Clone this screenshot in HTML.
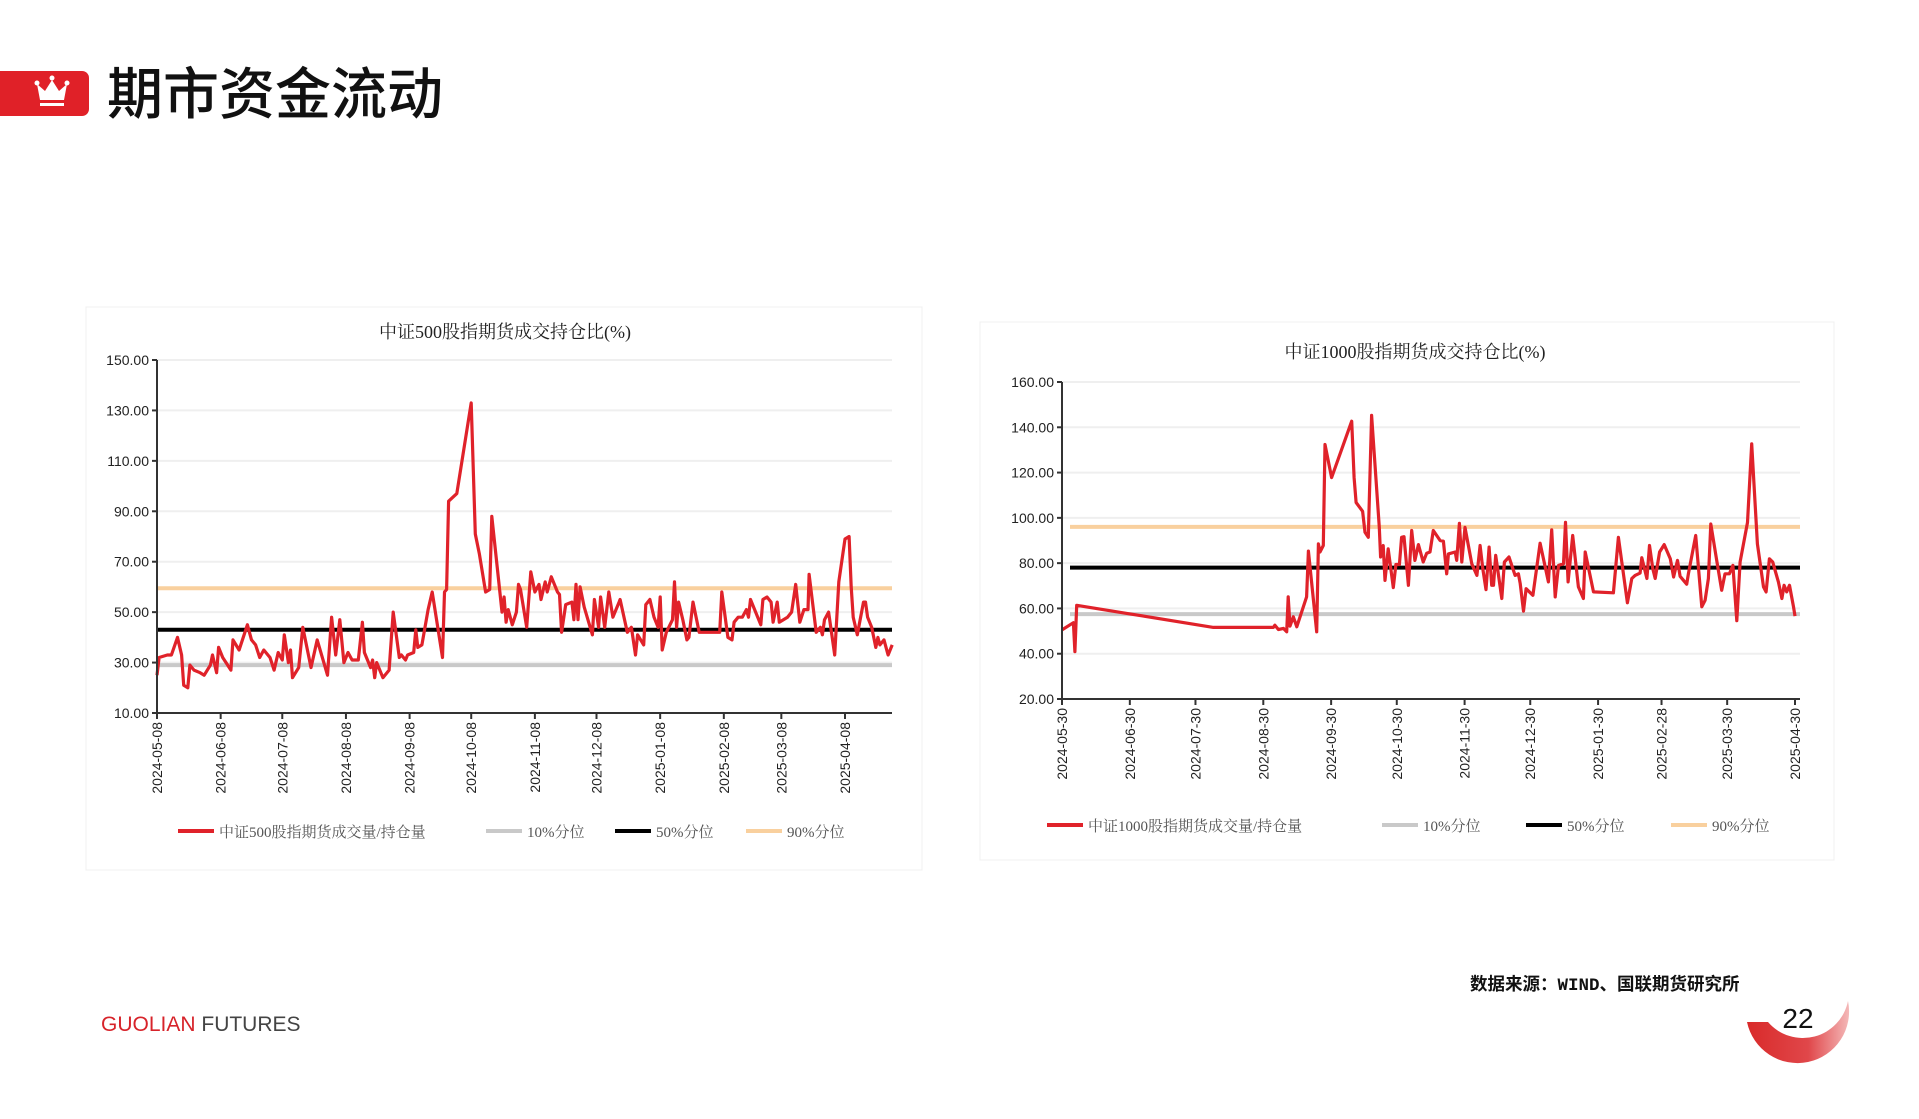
<!DOCTYPE html>
<html><head><meta charset="utf-8">
<style>
html,body{margin:0;padding:0;background:#fff;}
body{width:1919px;height:1114px;position:relative;overflow:hidden;font-family:"Liberation Sans","Noto Sans CJK SC",sans-serif;}
svg text{font-family:"Liberation Sans","Noto Sans CJK SC",sans-serif;}
.serif{font-family:"Liberation Serif","Noto Serif CJK SC",serif;}
</style></head>
<body>
<svg id="page" width="1919" height="1114" viewBox="0 0 1919 1114" xmlns="http://www.w3.org/2000/svg">
  <defs>
    <linearGradient id="arcGrad" x1="0" y1="0" x2="1" y2="0">
      <stop offset="0" stop-color="#d92a2a"/><stop offset="0.6" stop-color="#e0474a"/><stop offset="1" stop-color="#f4b8b8"/>
    </linearGradient>
  </defs>
  <g>
    <rect x="-10" y="71" width="99" height="45" rx="7" fill="#e02128"/>
    <g fill="#fff">
      <path d="M40 100 L37 84 L45 91 L52 80 L59 91 L67 84 L64 100 Z"/>
      <circle cx="37" cy="83" r="2.5"/><circle cx="52" cy="78" r="2.5"/><circle cx="67" cy="83" r="2.5"/>
      <rect x="40" y="103" width="24" height="3"/>
    </g>
    <text x="107" y="114" font-size="56" font-weight="500" fill="#111" style="font-family:'Noto Sans CJK SC',sans-serif">期市资金流动</text>
  </g>
  <rect x="86" y="307" width="836" height="563" fill="#fff" stroke="#f0f0f0"/>
  <rect x="980" y="322" width="854" height="538" fill="#fff" stroke="#f0f0f0"/>
  <g id="leftChart"></g>
  <g id="rightChart"></g>
  <text x="1470" y="990" font-size="17.5" font-weight="bold" fill="#111" style="font-family:'Liberation Mono','Noto Sans CJK SC',monospace">数据来源：WIND、国联期货研究所</text>
  <text x="101" y="1031" font-size="21"><tspan fill="#d7232a">GUOLIAN</tspan><tspan fill="#444"> FUTURES</tspan></text>
  <g>
    <path d="M1747 1022 A50 50 0 0 0 1848 1001 A46 46 0 0 1 1768 1022 Z" fill="url(#arcGrad)"/>
    <text x="1798" y="1028" font-size="28" text-anchor="middle" fill="#111">22</text>
  </g>
</svg>
<script>
// ---- CSI 500 chart data (days since 2024-05-08) ----
const leftDays = [0,1,5,7,10,12,13,15,16,18,21,23,26,27,29,30,32,36,37,40,44,46,48,50,52,55,57,59,61,62,64,65,66,69,71,75,78,83,85,87,89,91,93,95,98,100,101,104,105,106,107,110,113,115,118,119,121,122,125,126,127,129,132,134,139,140,141,142,146,153,155,157,160,162,163,168,169,170,171,173,175,176,177,180,182,184,186,187,189,190,192,195,196,197,199,202,203,204,205,206,208,212,213,215,216,218,220,222,225,225.5,229,231,233,234,237,238,240,242,244,245,246,248,251,252,253,254,256,258,259,261,264,274,275,278,280,281,283,285,287,288,289,294,295,297,299,300,302,303,307,309,311,313,315,317,317.5,321,323,324,325,327,330,332,335,337,338,339,341,344,345,346,348,350,351,352,354,356,358];
const leftVals = [25,32,33,33,40,33,21,20,29,27,26,25,29,33,26,36,32,27,39,35,45,39,37,32,35,32,27,34,31,41,30,35,24,28,44,28,39,25,48,33,47,30,34,31,31,46,34,28,31,24,30,24,27,50,32,33,31,33,34,43,36,37,51,58,32,58,59,94,97,133,81,73,58,59,88,50,56,46,51,45,50,61,59,44,66,58,61,55,62,58,64,58,57,42,53,54,47,61,47,60,52,41,55,44,56,44,58,48,54,55,42,44,33,41,37,53,55,48,44,56,35,42,47,62,44,54,47,39,40,54,42,42,58,40,39,46,48,48,51,48,55,45,55,56,54,46,54,46,48,50,61,46,51,51,65,42,44,41,47,50,33,62,79,80,60,48,41,54,54,48,44,36,40,37,39,33,37];
const leftTickLabels = ["2024-05-08","2024-06-08","2024-07-08","2024-08-08","2024-09-08","2024-10-08","2024-11-08","2024-12-08","2025-01-08","2025-02-08","2025-03-08","2025-04-08"];
const leftTickDays = [0,31,61,92,123,153,184,214,245,276,304,335];
const leftYTicks = [10,30,50,70,90,110,130,150];
const leftQuantiles = [29, 43, 59.5];

// ---- CSI 1000 chart data (days since 2024-05-30) ----
const rightDays = [0,5.2,5.9,6.7,29.6,69.2,96.6,97.3,98.9,101.2,102.7,103.4,104.2,105.7,107.3,111.8,112.6,116.4,117.2,117.9,119.4,120.2,123.2,132.4,133.5,134.4,137.4,138.5,140,141.5,145,145.6,146.8,147.6,149.1,151.4,152.6,154.2,155.2,156.3,158.3,159.8,161.3,162.9,165.1,166.7,168.2,169.7,172.8,174.3,175.8,176.6,179.7,180.4,181.6,182.7,184.2,187.3,189.6,191.1,192.3,193.8,195.2,196.4,197.2,198.2,201,202.2,204.3,207.1,208.6,209.4,210.9,212.1,215.2,218.5,222.3,223.8,225.4,226.9,229.2,230.1,231.3,233.4,236,238.3,239.1,242.9,252,254.3,258.4,260.4,261.9,264.2,265,267.3,268.5,270,271.1,273.1,275.2,278,279.5,281.3,282.5,285.5,286.3,289.6,292.4,293.9,295.4,296.5,299.2,301.5,303,305,306.6,308.4,309.9,313.3,315.2,317.8,320.6,321.8,323.3,324.8,327.4,329,330,331.2,332.5,334.3,335];
const rightVals = [50.5,53.7,40.9,61.4,57.8,51.6,51.6,52.6,50.7,51.2,49.7,65.1,52.2,56.3,51.9,65.1,85.3,49.7,88.5,84.9,87.8,132.4,117.8,142.7,117.8,106.8,102.9,93.6,91.4,145.3,95.8,82.7,87.8,72.4,86.3,69.2,79.4,79.4,91.4,91.7,70.2,94.4,81.2,88.2,80.5,84.4,84.9,94.4,90,89.7,75.3,84.1,84.9,81.2,97.6,80.5,95.8,79.7,74.6,87.8,77.5,68.3,87.1,70.2,70.2,83.4,64.4,80.5,82.7,74.6,75.3,71,58.8,68.7,65.8,88.8,71.7,94.7,65.1,79,79.7,98,71.7,92.2,69.5,64.4,84.9,67.3,66.9,91.4,62.5,73.2,74.6,75.6,82.4,73.2,87.8,77.5,73.2,84.9,88.2,81.9,73.9,81.2,74.2,70.7,75.3,92.2,60.7,63.6,73.2,97.3,81.2,68,75.3,75.3,79,54.6,80.5,98,132.7,88.5,69.5,67.3,81.9,80.5,71.7,64.4,70.2,67.3,70.2,60.7,56.6];
const rightTickLabels = ["2024-05-30","2024-06-30","2024-07-30","2024-08-30","2024-09-30","2024-10-30","2024-11-30","2024-12-30","2025-01-30","2025-02-28","2025-03-30","2025-04-30"];
const rightTickDays = [0,31,61,92,123,153,184,214,245,274,304,335];
const rightYTicks = [20,40,60,80,100,120,140,160];
const rightQuantiles = [57.5, 78, 96];

const NS = "http://www.w3.org/2000/svg";
function mk(parent, tag, attrs){ const e=document.createElementNS(NS,tag); for(const k in attrs) e.setAttribute(k,attrs[k]); parent.appendChild(e); return e; }

function drawChart(g, cfg, days, vals, tickDays, tickLabels, yTicks, quants){
  const xs = d => cfg.x0 + (d - cfg.d0)/(cfg.d1 - cfg.d0)*(cfg.x1 - cfg.x0);
  const ys = v => cfg.yb - (v - cfg.vmin)/(cfg.vmax - cfg.vmin)*(cfg.yb - cfg.yt);
  const title = mk(g,'text',{x:cfg.tx,y:cfg.ty,'font-size':18,'text-anchor':'middle',fill:'#222',class:'serif'});
  title.textContent = cfg.title;
  
  
  yTicks.forEach(v=>{
    const y=ys(v);
    if(v!==yTicks[0]){
      const gl=mk(g,'line',{x1:cfg.x0,x2:cfg.gx,y1:y,y2:y,stroke:'#efefef','stroke-width':2});
      
      
    }
    mk(g,'line',{x1:cfg.x0-5,x2:cfg.x0,y1:y,y2:y,stroke:'#333','stroke-width':2});
    const t=mk(g,'text',{x:cfg.x0-8,y:y+5,'font-size':14,'text-anchor':'end',fill:'#222'});
    t.textContent=v.toFixed(2);
    
    
  });
  const qc=['#c9c9c9','#000','#f9d09e'];
  quants.forEach((q,i)=>{
    const l=mk(g,'line',{x1:cfg.qx0,x2:cfg.gx,y1:ys(q),y2:ys(q),stroke:qc[i],'stroke-width':4});
    
    
  });
  const pts=days.map((d,i)=>xs(d).toFixed(1)+','+ys(vals[i]).toFixed(1)).join(' ');
  const s=mk(g,'polyline',{points:pts,fill:'none',stroke:'#e0222a','stroke-width':3.2,'stroke-linejoin':'round'});
  
  
  mk(g,'line',{x1:cfg.x0,x2:cfg.x0,y1:cfg.yt,y2:cfg.yb,stroke:'#333','stroke-width':2});
  mk(g,'line',{x1:cfg.x0,x2:cfg.gx,y1:cfg.yb,y2:cfg.yb,stroke:'#333','stroke-width':2});
  tickDays.forEach((d,i)=>{
    const x=xs(d);
    mk(g,'line',{x1:x,x2:x,y1:cfg.yb,y2:cfg.yb+6,stroke:'#333','stroke-width':2});
    const t=mk(g,'text',{x:0,y:0,'font-size':14,'text-anchor':'end',fill:'#222',transform:`translate(${x+5},${cfg.yb+9}) rotate(-90)`});
    t.textContent=tickLabels[i];
    
    
  });
  const lg=[['#e0222a',cfg.legend[0]],['#c9c9c9','10%分位'],['#000','50%分位'],['#f9d09e','90%分位']];
  lg.forEach((e,i)=>{
    const lx=cfg.lx[i];
    mk(g,'line',{x1:lx,x2:lx+36,y1:cfg.ly,y2:cfg.ly,stroke:e[0],'stroke-width':4});
    const t=mk(g,'text',{x:lx+41,y:cfg.ly+6,'font-size':15,fill:'#555',class:'serif'});
    t.textContent=e[1];
    
    
  });
}

drawChart(document.getElementById('leftChart'),
  {x0:157,x1:845,d0:0,d1:335,gx:892,qx0:157,yt:360,yb:713,vmin:10,vmax:150,tx:505,ty:338,title:'中证500股指期货成交持仓比(%)',legend:['中证500股指期货成交量/持仓量'],lx:[178,486,615,746],ly:831},
  leftDays,leftVals,leftTickDays,leftTickLabels,leftYTicks,leftQuantiles);
drawChart(document.getElementById('rightChart'),
  {x0:1062,x1:1795,d0:0,d1:335,gx:1800,qx0:1070,yt:382,yb:699,vmin:20,vmax:160,tx:1415,ty:358,title:'中证1000股指期货成交持仓比(%)',legend:['中证1000股指期货成交量/持仓量'],lx:[1047,1382,1526,1671],ly:825},
  rightDays,rightVals,rightTickDays,rightTickLabels,rightYTicks,rightQuantiles);
</script>
</body></html>
